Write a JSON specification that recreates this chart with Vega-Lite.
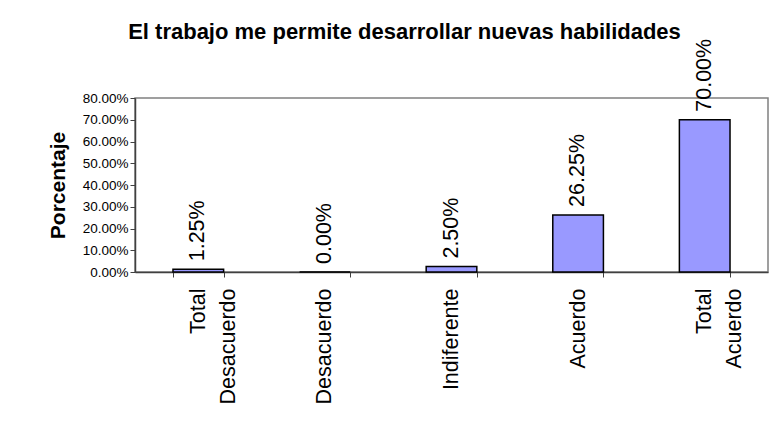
{
  "$schema": "https://vega.github.io/schema/vega-lite/v6.json",
  "width": 633,
  "height": 174,
  "autosize": "none",
  "padding": {"left": 135, "top": 98, "right": 11, "bottom": 153},
  "background": "white",
  "title": {
    "text": "El trabajo me permite desarrollar nuevas habilidades",
    "font": "Liberation Sans",
    "fontSize": 22,
    "fontWeight": "bold",
    "color": "black",
    "anchor": "middle",
    "dx": -47,
    "dy": 7,
    "offset": 2
  },
  "data": {
    "values": [
      {"categoria": "Total Desacuerdo", "porcentaje": 0.0125},
      {"categoria": "Desacuerdo", "porcentaje": 0.0},
      {"categoria": "Indiferente", "porcentaje": 0.025},
      {"categoria": "Acuerdo", "porcentaje": 0.2625},
      {"categoria": "Total Acuerdo", "porcentaje": 0.7}
    ]
  },
  "encoding": {
    "x": {
      "field": "categoria",
      "type": "nominal",
      "sort": null,
      "scale": {"paddingInner": 0.6, "paddingOuter": 0.3},
      "axis": {
        "title": null,
        "labelAngle": -90,
        "labelAlign": "right",
        "labelBaseline": "middle",
        "labelExpr": "split(datum.label, ' ')",
        "labelLineHeight": 30,
        "labelFont": "Liberation Sans",
        "labelFontSize": 21.5,
        "labelColor": "black",
        "labelPadding": 11,
        "tickBand": "extent",
        "tickSize": 5,
        "tickColor": "#404040",
        "domainColor": "#404040",
        "domainWidth": 1.5,
        "grid": false
      }
    },
    "y": {
      "field": "porcentaje",
      "type": "quantitative",
      "scale": {"domain": [0, 0.8], "nice": false},
      "axis": {
        "title": "Porcentaje",
        "titleFont": "Liberation Sans",
        "titleFontSize": 21,
        "titleFontWeight": "bold",
        "titleColor": "black",
        "titlePadding": 14,
        "values": [0, 0.1, 0.2, 0.3, 0.4, 0.5, 0.6, 0.7, 0.8],
        "format": ".2%",
        "labelFont": "Liberation Sans",
        "labelFontSize": 13.5,
        "labelColor": "black",
        "labelPadding": 2,
        "tickSize": 5,
        "tickColor": "#404040",
        "domainColor": "#404040",
        "domainWidth": 1.5,
        "grid": false
      }
    }
  },
  "layer": [
    {
      "mark": {"type": "bar", "color": "#9999FF", "stroke": "black", "strokeWidth": 1.5}
    },
    {
      "mark": {
        "type": "text",
        "angle": -90,
        "align": "left",
        "baseline": "middle",
        "dx": 8,
        "font": "Liberation Sans",
        "fontSize": 21.5,
        "color": "black"
      },
      "encoding": {
        "text": {"field": "porcentaje", "type": "quantitative", "format": ".2%"}
      }
    }
  ],
  "config": {
    "view": {"stroke": "#808080", "strokeWidth": 1.5}
  }
}
